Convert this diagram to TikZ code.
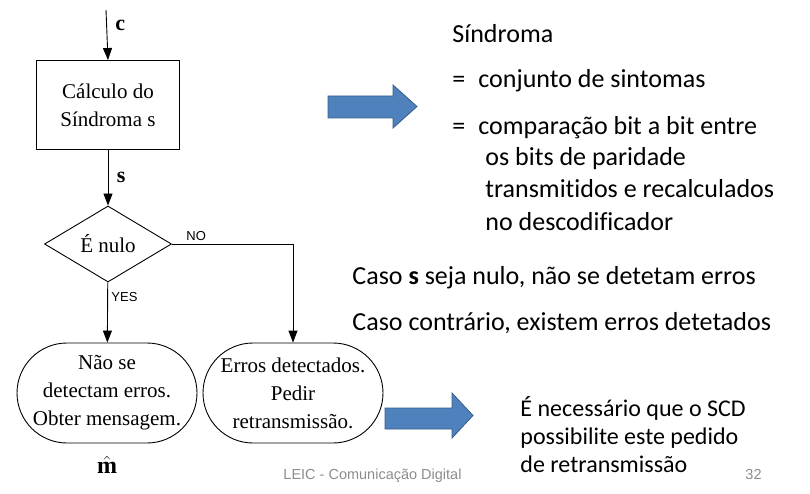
\documentclass[tikz,border=0pt]{standalone}
\usepackage{fontspec}
\setmainfont{Liberation Serif}
\newfontfamily\slidefont[Ligatures={NoCommon}]{Carlito}
\newfontfamily\labelfont{Liberation Sans}
\usepackage{xcolor}
\usetikzlibrary{shapes.geometric, positioning, arrows.meta}

\definecolor{arrowfill}{HTML}{4F81BD}
\definecolor{arrowline}{HTML}{385D8A}
\definecolor{footgray}{HTML}{8C8C8C}

\tikzset{
    flowbox/.style={draw, line width=0.9pt, align=center, inner sep=2pt,
        font=\fontsize{21}{28}\selectfont},
    endbox/.style={flowbox, rectangle, rounded corners=50pt,
        minimum width=180pt, minimum height=100pt},
    sig/.style={font=\bfseries\fontsize{22}{22}\selectfont, xshift=5pt},
    yesno/.style={font=\labelfont\fontsize{13}{13}\selectfont},
    slidetxt/.style={anchor=base west, inner sep=0pt,
        font=\slidefont\fontsize{26}{26}\selectfont},
    notetxt/.style={anchor=base west, inner sep=0pt,
        font=\slidefont\fontsize{24}{24}\selectfont},
    bigarrow/.style={fill=arrowfill, draw=arrowline, line width=0.8pt}
}

\begin{document}
\begin{tikzpicture}[x=1pt, y=-1pt, >={Triangle[length=12pt, width=9pt]},
    line width=0.9pt]
    \useasboundingbox (0,0) rectangle (810,494);

    % Fluxograma
    \coordinate (cin) at (106,10);
    \node[flowbox, rectangle, minimum width=143pt, minimum height=89pt]
        (calc) at (108,105) {Cálculo do\\Síndroma s};
    \node[flowbox, diamond, minimum width=127pt, minimum height=76pt, inner sep=0pt]
        (nulo) at (108,244) {É nulo};
    \node[endbox] (ok) at (107,393) {Não se\\detectam erros.\\Obter mensagem.};
    \node[endbox] (err) at (293,393) {Erros detectados.\\Pedir\\retransmissão.};
    \node[below=12pt of ok, inner sep=0pt, font=\fontsize{24}{24}\selectfont]
        (mhat) {$\hat{\mathbf{m}}$};

    \draw[->] (cin) -- node[right, sig, pos=0.3] {c} (calc.north);
    \draw[->] (calc) -- node[right, sig] {s} (nulo);
    \draw[->] (nulo) -- node[right, yesno, pos=0.25] {YES} (ok);
    \draw[->] (nulo.east) -| node[above, yesno, pos=0.1] {NO} (err.north);

    % Setas azuis
    \draw[bigarrow] (328,96) -- (393,96) -- (393,85) -- (417,106.5)
        -- (393,128) -- (393,118) -- (328,118) -- cycle;
    \draw[bigarrow] (385,408) -- (452,408) -- (452,393) -- (473,415.5)
        -- (452,438) -- (452,429) -- (385,429) -- cycle;

    % Texto do diapositivo
    \node[slidetxt] (t1) at (452,43) {Síndroma};
    \node[slidetxt] (eq1) at (452,88) {=};
    \node[slidetxt] (t2) at (478,88) {conjunto de sintomas};
    \node[slidetxt] (eq2) at (452,135) {=};
    \node[slidetxt] (t3) at (478,135) {comparação bit a bit entre};
    \node[slidetxt] (t4) at (485,166) {os bits de paridade};
    \node[slidetxt] (t5) at (485,198) {transmitidos e recalculados};
    \node[slidetxt] (t6) at (485,230) {no descodificador};
    \node[slidetxt] (t7) at (352,284) {Caso \textbf{s} seja nulo, não se detetam erros};
    \node[slidetxt] (t8) at (352,330) {Caso contrário, existem erros detetados};

    \node[notetxt] (n1) at (520,416) {É necessário que o SCD};
    \node[notetxt] (n2) at (520,444) {possibilite este pedido};
    \node[notetxt] (n3) at (520,472) {de retransmissão};

    % Rodapé
    \node[anchor=base west, inner sep=0pt, text=footgray,
        font=\labelfont\fontsize{14.5}{14.5}\selectfont] (foot) at (283,479)
        {LEIC - Comunicação Digital};
    \node[anchor=base west, inner sep=0pt, text=footgray,
        font=\labelfont\fontsize{14.5}{14.5}\selectfont] (page) at (745,479) {32};
\end{tikzpicture}
\end{document}
